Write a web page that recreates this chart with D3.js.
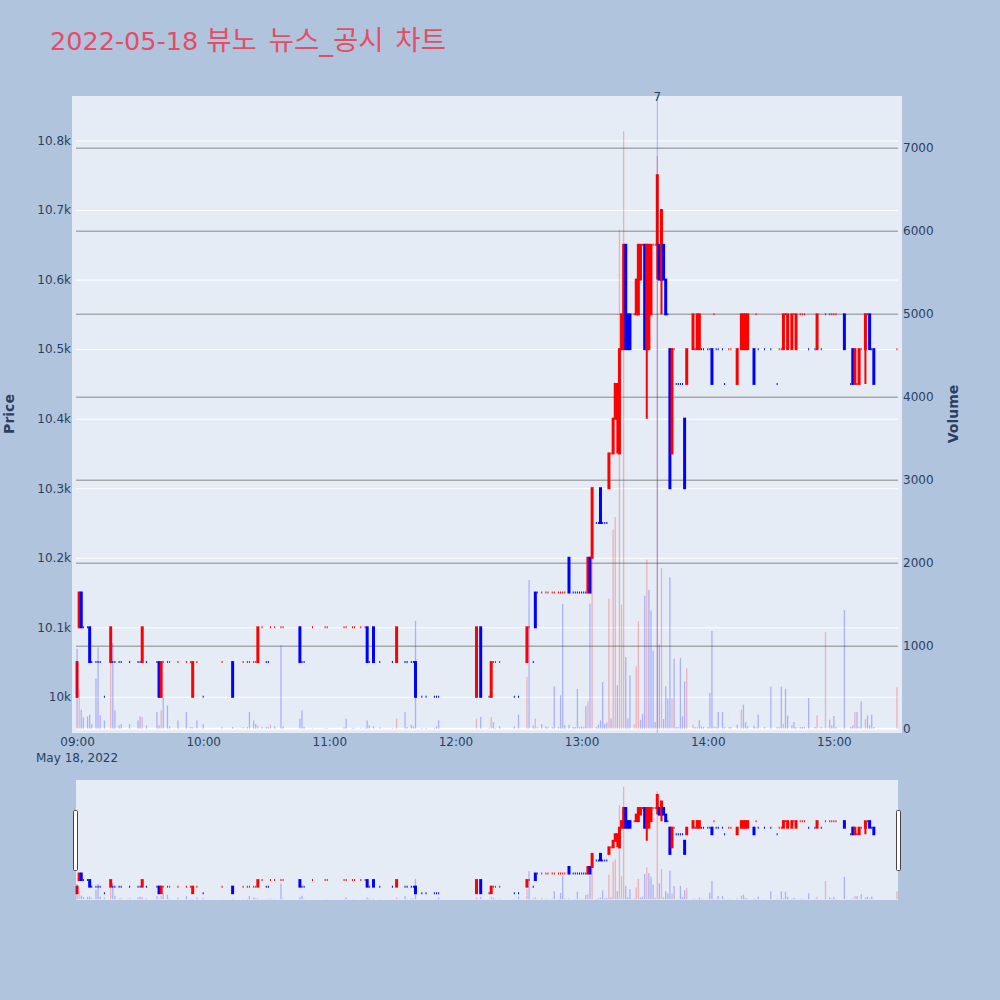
<!DOCTYPE html>
<html>
<head>
<meta charset="utf-8">
<script src="https://cdn.jsdelivr.net/npm/d3@7"></script>
<style>
  body { margin: 0; background: #b0c4de; }
  svg { display: block; font-family: "DejaVu Sans", Verdana, "Noto Sans CJK KR", sans-serif; }
</style>
</head>
<body>
<svg id="chart" width="1000" height="1000"></svg>
<script>
"use strict";

// one-minute candles (only minutes that traded)
var times = [
  "09:00","09:01","09:02","09:03","09:05","09:06","09:07","09:09","09:10","09:11",
  "09:13","09:16","09:17","09:18","09:20","09:21","09:25","09:29","09:30","09:31",
  "09:33","09:38","09:39","09:40","09:41","09:43","09:44","09:48","09:52","09:54",
  "09:55","09:57","10:00","10:09","10:14","10:19","10:21","10:22","10:24","10:25",
  "10:26","10:28","10:30","10:31","10:32","10:34","10:37","10:38","10:46","10:47",
  "10:48","10:52","10:58","10:59","11:07","11:08","11:11","11:12","11:15","11:17",
  "11:18","11:19","11:21","11:24","11:30","11:32","11:36","11:37","11:39","11:40",
  "11:41","11:44","11:46","11:50","11:51","11:52","12:10","12:12","12:16","12:17",
  "12:18","12:19","12:21","12:28","12:30","12:34","12:35","12:37","12:38","12:39",
  "12:41","12:43","12:44","12:46","12:47","12:49","12:50","12:51","12:52","12:54",
  "12:56","12:57","12:58","12:59","13:00","13:01","13:02","13:03","13:04","13:05",
  "13:07","13:08","13:09","13:10","13:11","13:12","13:13","13:14","13:15","13:16",
  "13:17","13:18","13:19","13:20","13:21","13:22","13:23","13:25","13:26","13:27",
  "13:28","13:29","13:30","13:31","13:32","13:33","13:34","13:35","13:36","13:37",
  "13:38","13:39","13:40","13:41","13:42","13:43","13:44","13:45","13:46","13:47",
  "13:48","13:49","13:50","13:53","13:54","13:55","13:56","13:57","13:58","14:00",
  "14:01","14:02","14:03","14:04","14:05","14:07","14:08","14:10","14:11","14:14",
  "14:16","14:17","14:18","14:19","14:22","14:23","14:24","14:27","14:30","14:33",
  "14:34","14:35","14:36","14:37","14:38","14:40","14:41","14:42","14:44","14:45",
  "14:46","14:48","14:51","14:52","14:54","14:56","14:58","14:59","15:00","15:01",
  "15:05","15:08","15:09","15:10","15:11","15:12","15:13","15:15","15:16","15:17",
  "15:18","15:19","15:30"
];

var opens = [
  10000,10100,10150,10100,10100,10100,10050,10050,10050,10050,
  10000,10050,10050,10050,10050,10050,10050,10050,10050,10050,
  10050,10050,10050,10000,10050,10050,10050,10050,10050,10050,
  10000,10050,10000,10050,10050,10050,10050,10050,10050,10050,
  10050,10100,10050,10050,10100,10100,10100,10100,10100,10050,
  10050,10100,10100,10100,10100,10100,10100,10100,10100,10100,
  10100,10050,10100,10050,10050,10050,10050,10050,10050,10050,
  10050,10000,10000,10000,10000,10000,10000,10100,10000,10000,
  10050,10050,10050,10000,10000,10050,10100,10050,10150,10150,
  10150,10150,10150,10150,10150,10150,10150,10150,10150,10200,
  10150,10150,10150,10150,10150,10150,10150,10150,10200,10200,
  10250,10250,10300,10250,10250,10250,10300,10350,10350,10400,
  10400,10350,10500,10500,10650,10550,10550,10550,10550,10550,
  10600,10650,10650,10500,10500,10550,10650,10650,10650,10650,
  10600,10650,10600,10550,10500,10350,10500,10450,10450,10450,
  10450,10400,10450,10500,10500,10500,10500,10500,10500,10500,
  10500,10500,10550,10500,10500,10500,10450,10500,10500,10450,
  10500,10500,10500,10500,10500,10550,10500,10500,10500,10450,
  10500,10500,10500,10550,10500,10500,10550,10500,10550,10550,
  10550,10500,10500,10500,10500,10550,10550,10550,10550,10550,
  10550,10450,10500,10450,10450,10450,10500,10500,10550,10550,
  10500,10500,10500
];

var highs = [
  10050,10150,10150,10100,10100,10100,10050,10050,10050,10050,
  10000,10100,10050,10050,10050,10050,10050,10050,10050,10100,
  10050,10050,10050,10050,10050,10050,10050,10050,10050,10050,
  10050,10050,10000,10050,10050,10050,10050,10050,10050,10050,
  10100,10100,10050,10050,10100,10100,10100,10100,10100,10050,
  10050,10100,10100,10100,10100,10100,10100,10100,10100,10100,
  10100,10050,10100,10050,10050,10100,10050,10050,10050,10050,
  10050,10000,10000,10000,10000,10000,10100,10100,10000,10050,
  10050,10050,10050,10000,10000,10100,10100,10050,10150,10150,
  10150,10150,10150,10150,10150,10150,10150,10150,10150,10200,
  10150,10150,10150,10150,10150,10150,10150,10200,10200,10300,
  10250,10250,10300,10250,10250,10250,10350,10350,10400,10450,
  10450,10500,10550,10650,10650,10550,10550,10550,10600,10650,
  10650,10650,10650,10650,10650,10650,10650,10650,10750,10650,
  10700,10650,10600,10550,10500,10500,10500,10450,10450,10450,
  10450,10400,10500,10550,10500,10550,10550,10500,10500,10500,
  10500,10500,10550,10500,10500,10500,10450,10500,10500,10500,
  10550,10550,10550,10550,10500,10550,10500,10500,10500,10450,
  10500,10500,10550,10550,10550,10550,10550,10550,10550,10550,
  10550,10500,10500,10550,10500,10550,10550,10550,10550,10550,
  10550,10450,10500,10500,10450,10500,10500,10550,10550,10550,
  10500,10500,10500
];

var lows = [
  10000,10100,10100,10100,10100,10050,10050,10050,10050,10050,
  10000,10050,10050,10050,10050,10050,10050,10050,10050,10050,
  10050,10050,10000,10000,10050,10050,10050,10050,10050,10050,
  10000,10050,10000,10050,10000,10050,10050,10050,10050,10050,
  10050,10100,10050,10050,10100,10100,10100,10100,10050,10050,
  10050,10100,10100,10100,10100,10100,10100,10100,10100,10100,
  10050,10050,10050,10050,10050,10050,10050,10050,10050,10050,
  10000,10000,10000,10000,10000,10000,10000,10000,10000,10000,
  10050,10050,10050,10000,10000,10050,10100,10050,10100,10150,
  10150,10150,10150,10150,10150,10150,10150,10150,10150,10150,
  10150,10150,10150,10150,10150,10150,10150,10150,10150,10200,
  10250,10250,10250,10250,10250,10250,10300,10350,10350,10400,
  10350,10350,10500,10500,10500,10500,10500,10550,10550,10550,
  10600,10650,10500,10400,10500,10550,10650,10650,10600,10600,
  10550,10600,10550,10550,10300,10350,10500,10450,10450,10450,
  10450,10300,10450,10500,10500,10500,10500,10500,10500,10500,
  10500,10450,10550,10500,10500,10500,10450,10500,10500,10450,
  10500,10500,10500,10500,10450,10550,10500,10500,10500,10450,
  10500,10500,10500,10550,10500,10500,10550,10500,10550,10550,
  10550,10500,10500,10500,10500,10550,10550,10550,10550,10550,
  10500,10450,10450,10450,10450,10450,10500,10450,10550,10500,
  10500,10450,10500
];

var closes = [
  10050,10150,10100,10100,10100,10050,10050,10050,10050,10050,
  10000,10100,10050,10050,10050,10050,10050,10050,10050,10100,
  10050,10050,10000,10050,10050,10050,10050,10050,10050,10050,
  10050,10050,10000,10050,10000,10050,10050,10050,10050,10050,
  10100,10100,10050,10050,10100,10100,10100,10100,10050,10050,
  10050,10100,10100,10100,10100,10100,10100,10100,10100,10100,
  10050,10050,10050,10050,10050,10100,10050,10050,10050,10050,
  10000,10000,10000,10000,10000,10000,10100,10000,10000,10050,
  10050,10050,10050,10000,10000,10100,10100,10050,10100,10150,
  10150,10150,10150,10150,10150,10150,10150,10150,10150,10150,
  10150,10150,10150,10150,10150,10150,10150,10200,10150,10300,
  10250,10250,10250,10250,10250,10250,10350,10350,10400,10450,
  10450,10500,10550,10650,10500,10500,10500,10550,10600,10650,
  10650,10650,10500,10650,10650,10650,10650,10650,10750,10600,
  10700,10600,10550,10550,10300,10500,10500,10450,10450,10450,
  10450,10300,10500,10550,10500,10550,10550,10500,10500,10500,
  10500,10450,10550,10500,10500,10500,10450,10500,10500,10500,
  10550,10550,10550,10550,10450,10550,10500,10500,10500,10450,
  10500,10500,10550,10550,10550,10550,10550,10550,10550,10550,
  10550,10500,10500,10550,10500,10550,10550,10550,10550,10550,
  10500,10450,10450,10500,10450,10500,10500,10550,10550,10500,
  10500,10450,10500
];

var volumes = [
  964,470,229,137,149,169,56,602,980,161,
  100,1012,1032,221,40,56,56,100,149,137,
  40,201,40,221,378,281,28,100,201,20,
  16,100,56,20,20,20,20,201,100,56,
  40,20,20,20,48,28,1004,28,120,221,
  20,8,8,8,16,120,10,10,10,10,
  100,40,28,16,8,120,201,20,48,28,
  1301,8,10,10,28,100,120,141,10,141,
  80,10,28,28,169,622,1790,36,120,20,
  56,28,20,20,510,20,402,1502,44,44,
  20,20,478,20,28,20,269,330,1506,2920,
  20,48,100,562,56,76,1566,124,2397,2550,
  522,6012,1494,7197,863,125,643,52,751,1293,
  108,177,1602,2036,1674,1426,940,80,6900,1012,
  1935,116,510,365,1823,365,843,20,20,851,
  149,570,727,48,20,20,100,28,20,20,
  429,1177,28,20,201,201,20,20,20,48,
  229,289,80,28,36,20,169,20,506,20,
  20,506,60,482,157,40,80,20,20,20,
  20,369,20,161,20,1163,108,40,153,20,
  1430,20,40,201,201,20,329,116,161,40,
  169,20,498
];

var priceTicks = [10000, 10100, 10200, 10300, 10400, 10500, 10600, 10700, 10800];
var volumeTicks = [0, 1000, 2000, 3000, 4000, 5000, 6000, 7000];
var timeTicks = ["09:00", "10:00", "11:00", "12:00", "13:00", "14:00", "15:00"];
var newsTimes = ["13:36"];
var newsLabels = ["7"];
var titleDate = "2022-05-18";
var titleName = "뷰노 뉴스_공시 차트";
var dayLabel = "May 18, 2022";

var UP = "#ff0000", DOWN = "#0000ff";
var TXT = "#2a3f5f";

var plot = { left: 76, right: 898, top: 96, bottom: 733 };
var slider = { top: 780, bottom: 900 };

var parseTime = d3.timeParse("%H:%M");

var data = times.map(function(t, i) {
  return { t: parseTime(t), o: opens[i], h: highs[i], l: lows[i], c: closes[i], v: volumes[i] };
});

// candle direction: open==close falls back to change from previous close
var prevClose = null, up = true;
data.forEach(function(d) {
  if (d.c === d.o) {
    if (prevClose !== null && d.c !== prevClose) up = d.c > prevClose;
  } else {
    up = d.c > d.o;
  }
  d.up = up;
  d.volUp = prevClose !== null && d.c > prevClose;
  prevClose = d.c;
});

var x = d3.scaleTime()
  .domain([d3.timeSecond.offset(parseTime("09:00"), -30), d3.timeSecond.offset(parseTime("15:30"), 30)])
  .range([plot.left, plot.right]);

var priceDomain = [9948, 10864];
var volumeDomain = [-52, 7623];

var svg = d3.select("#chart");

var title = svg.append("text")
  .attr("x", 50)
  .attr("y", 50)
  .attr("font-size", 25.5)
  .attr("fill", "#e54d64");
title.append("tspan").text(titleDate + " ");
title.append("tspan").attr("font-size", 27.5).attr("word-spacing", 3).text(titleName);

function drawPanel(g, yP, yV, top, bottom, clipId) {
  g.append("clipPath").attr("id", clipId)
    .append("rect")
    .attr("x", plot.left - 4).attr("y", top)
    .attr("width", plot.right - plot.left + 8).attr("height", bottom - top);

  var inner = g.append("g").attr("clip-path", "url(#" + clipId + ")");

  inner.selectAll("path.candle")
    .data(data)
    .enter()
    .append("path")
    .attr("class", "candle")
    .attr("fill", function(d) { return d.up ? UP : DOWN; })
    .attr("stroke", function(d) { return d.up ? UP : DOWN; })
    .attr("stroke-width", 2)
    .attr("d", function(d) {
      var cx = x(d.t), bw = 0.5;
      var yo = yP(d.o), yc = yP(d.c);
      var p = "M" + (cx - bw) + "," + yo + "H" + (cx + bw) + "V" + yc + "H" + (cx - bw) + "Z";
      if (d.h > Math.max(d.o, d.c)) p += "M" + cx + "," + yP(d.h) + "V" + yP(Math.max(d.o, d.c));
      if (d.l < Math.min(d.o, d.c)) p += "M" + cx + "," + yP(d.l) + "V" + yP(Math.min(d.o, d.c));
      return p;
    });

  inner.selectAll("rect.vol")
    .data(data)
    .enter()
    .append("rect")
    .attr("class", "vol")
    .attr("x", function(d) { return x(d.t) - 0.65; })
    .attr("width", 1.3)
    .attr("y", function(d) { return yV(d.v); })
    .attr("height", function(d) { return yV(0) - yV(d.v); })
    .attr("fill", function(d) { return d.volUp ? UP : DOWN; })
    .attr("fill-opacity", 0.25);
}

function styleAxis(g) {
  g.attr("font-family", null).attr("font-size", null);
  g.select(".domain").remove();
  g.selectAll("text").attr("font-size", 12).attr("fill", TXT);
}

// ---- main panel
var yPrice = d3.scaleLinear().domain(priceDomain).range([plot.bottom, plot.top]);
var yVol = d3.scaleLinear().domain(volumeDomain).range([plot.bottom, plot.top]);

var main = svg.append("g");

main.append("rect")
  .attr("x", 72).attr("y", plot.top)
  .attr("width", 902 - 72).attr("height", plot.bottom - plot.top)
  .attr("fill", "#e5ecf6");

var priceGrid = main.append("g")
  .attr("transform", "translate(" + plot.left + ",0)")
  .call(d3.axisLeft(yPrice).tickValues(priceTicks).tickSize(-(plot.right - plot.left)).tickFormat(""));
priceGrid.select(".domain").remove();
priceGrid.selectAll("line").attr("stroke", "#ffffff").attr("stroke-width", 1);

var volGrid = main.append("g")
  .attr("transform", "translate(" + plot.left + ",0)")
  .call(d3.axisLeft(yVol).tickValues(volumeTicks.slice(1)).tickSize(-(plot.right - plot.left)).tickFormat(""));
volGrid.select(".domain").remove();
volGrid.selectAll("line").attr("stroke", "#a7a8ab").attr("stroke-width", 1.6);

main.append("line")
  .attr("x1", plot.left).attr("x2", plot.right)
  .attr("y1", yVol(0)).attr("y2", yVol(0))
  .attr("stroke", "#ffffff").attr("stroke-width", 2);

drawPanel(main, yPrice, yVol, plot.top, plot.bottom, "clipMain");

// news markers
newsTimes.forEach(function(t, i) {
  var nx = x(parseTime(t));
  main.append("line")
    .attr("x1", nx).attr("x2", nx)
    .attr("y1", plot.top).attr("y2", plot.bottom)
    .attr("stroke", "#0000ff").attr("stroke-opacity", 0.28).attr("stroke-width", 1);
  main.append("text")
    .attr("x", nx).attr("y", plot.top + 5)
    .attr("text-anchor", "middle")
    .attr("font-size", 12)
    .attr("fill", TXT)
    .text(newsLabels[i]);
});

// axes
main.append("g")
  .attr("transform", "translate(" + plot.left + ",0)")
  .call(d3.axisLeft(yPrice).tickValues(priceTicks).tickFormat(d3.format("~s")).tickSize(0).tickPadding(5))
  .call(styleAxis);

main.append("g")
  .attr("transform", "translate(" + plot.right + ",0)")
  .call(d3.axisRight(yVol).tickValues(volumeTicks).tickFormat(d3.format("d")).tickSize(0).tickPadding(5))
  .call(styleAxis);

main.append("g")
  .attr("transform", "translate(0," + plot.bottom + ")")
  .call(d3.axisBottom(x).tickValues(timeTicks.map(parseTime)).tickFormat(d3.timeFormat("%H:%M")).tickSize(0).tickPadding(4))
  .call(styleAxis);

main.append("text")
  .attr("x", x(parseTime(timeTicks[0])))
  .attr("y", 762)
  .attr("text-anchor", "middle")
  .attr("font-size", 12)
  .attr("fill", TXT)
  .text(dayLabel);

main.append("text")
  .attr("transform", "translate(14,414) rotate(-90)")
  .attr("text-anchor", "middle")
  .attr("font-size", 14)
  .attr("font-weight", "bold")
  .attr("fill", TXT)
  .text("Price");

main.append("text")
  .attr("transform", "translate(958,414) rotate(-90)")
  .attr("text-anchor", "middle")
  .attr("font-size", 14)
  .attr("font-weight", "bold")
  .attr("fill", TXT)
  .text("Volume");

// ---- range slider
var yPriceS = d3.scaleLinear().domain(priceDomain).range([slider.bottom, slider.top]);
var yVolS = d3.scaleLinear().domain(volumeDomain).range([slider.bottom, slider.top]);

var rs = svg.append("g");
rs.append("rect")
  .attr("x", plot.left).attr("y", slider.top)
  .attr("width", plot.right - plot.left).attr("height", slider.bottom - slider.top)
  .attr("fill", "#e5ecf6");

drawPanel(rs, yPriceS, yVolS, slider.top, slider.bottom, "clipSlider");

[plot.left - 2.5, plot.right - 1.5].forEach(function(hx) {
  rs.append("rect")
    .attr("x", hx).attr("y", 810.5)
    .attr("width", 4).attr("height", 60)
    .attr("rx", 1)
    .attr("fill", "#ffffff")
    .attr("stroke", "#444444")
    .attr("stroke-width", 1);
});
</script>
</body>
</html>
